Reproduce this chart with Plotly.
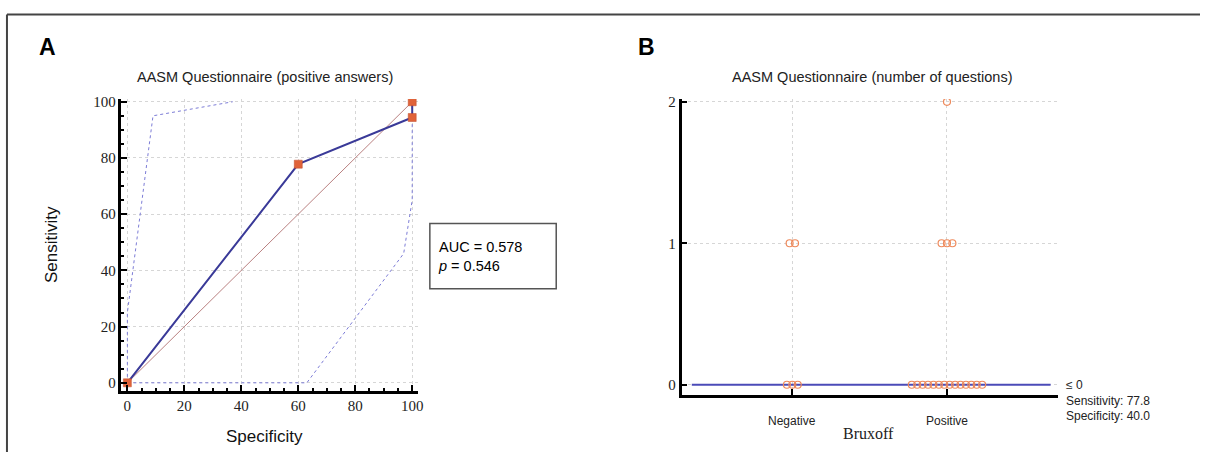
import plotly.graph_objects as go

# ---- Panel A data (ROC) ----
roc_spec = [0, 60, 100, 100]
roc_sens = [0, 77.8, 94.4, 100]
diag_x = [0, 100]
diag_y = [0, 100]
upper_ci_x = [0, 0, 9, 37]
upper_ci_y = [0, 25, 95, 100]
lower_ci_x = [0, 63, 97, 100, 100]
lower_ci_y = [0, 0, 46, 65, 100]
auc_text = "AUC = 0.578"
p_text = "0.546"
a_ticks = [0, 20, 40, 60, 80, 100]

# ---- Panel B data (dot plot) ----
categories = ["Negative", "Positive"]
negative_values = [0, 0, 0, 1, 1]
positive_values = [0, 0, 0, 0, 0, 0, 0, 0, 0, 0, 0, 0, 0, 0, 1, 1, 1, 2]
criterion = 0
sensitivity = 77.8
specificity = 40.0
b_ticks = [0, 1, 2]

W, H = 1206, 452

def px(x):
    return x / W

def py(y):
    return 1 - y / H

fig = go.Figure()

blue = "#3A3A98"
ci_blue = "#7C7CD6"
orange = "#E0633A"
circ = "#EE8A5C"

# Panel A traces
fig.add_trace(go.Scatter(x=diag_x, y=diag_y, mode="lines",
                         line=dict(color="#B98080", width=1), xaxis="x", yaxis="y", hoverinfo="skip"))
fig.add_trace(go.Scatter(x=upper_ci_x, y=upper_ci_y, mode="lines",
                         line=dict(color=ci_blue, width=1, dash="dot"), xaxis="x", yaxis="y"))
fig.add_trace(go.Scatter(x=lower_ci_x, y=lower_ci_y, mode="lines",
                         line=dict(color=ci_blue, width=1, dash="dot"), xaxis="x", yaxis="y"))
fig.add_trace(go.Scatter(x=roc_spec, y=roc_sens, mode="lines+markers",
                         line=dict(color=blue, width=2),
                         marker=dict(symbol="square", size=8, color=orange,
                                     line=dict(color="#C04A2A", width=0.5)),
                         xaxis="x", yaxis="y"))

# Panel B traces: beeswarm-like horizontal spread
spacing = 0.035

def spread(values, center):
    xs, ys = [], []
    for v in sorted(set(values)):
        n = values.count(v)
        for i in range(n):
            xs.append(center + (i - (n - 1) / 2) * spacing)
            ys.append(v)
    return xs, ys

fig.add_trace(go.Scatter(x=[-0.65, 1.67], y=[criterion, criterion], mode="lines",
                         line=dict(color="#4B4BB8", width=2), xaxis="x2", yaxis="y2"))
for ci, vals in enumerate([negative_values, positive_values]):
    xs, ys = spread(vals, ci)
    fig.add_trace(go.Scatter(x=xs, y=ys, mode="markers",
                             marker=dict(symbol="circle", size=7, color="rgba(255,255,255,0)",
                                         line=dict(color=circ, width=1.2)),
                             xaxis="x2", yaxis="y2"))

serif = "Liberation Serif, Times New Roman, serif"
sans = "Liberation Sans, Arial, sans-serif"

axis_common = dict(showline=True, linecolor="black", linewidth=2.5, ticks="inside",
                   tickcolor="black", tickwidth=2, ticklen=6, showgrid=True,
                   gridcolor="#D6D6D6", griddash="dot", gridwidth=1, zeroline=False,
                   tickfont=dict(family=serif, size=15, color="#222"))

fig.update_layout(
    width=W, height=H, margin=dict(l=0, r=0, t=0, b=0),
    paper_bgcolor="white", plot_bgcolor="white", showlegend=False,
    xaxis=dict(domain=[px(122), px(420)], range=[-2.1, 102], anchor="y",
               tickvals=a_ticks,
               minor=dict(dtick=5, ticks="inside", ticklen=3, tickcolor="black", showgrid=False),
               **axis_common),
    yaxis=dict(domain=[py(390), py(95)], range=[-2.8, 101], anchor="x",
               tickvals=a_ticks,
               minor=dict(dtick=5, ticks="inside", ticklen=3, tickcolor="black", showgrid=False),
               **axis_common),
    xaxis2=dict(domain=[px(685), px(1063)], range=[-0.716, 1.716], anchor="y2",
                tickvals=[0, 1], ticktext=["", ""], **axis_common),
    yaxis2=dict(domain=[py(394), py(95)], range=[-0.07, 2.02], anchor="x2",
                tickvals=b_ticks, **axis_common),
)

ann = []
ann.append(dict(x=px(48), y=py(42), text="<b>A</b>", showarrow=False, xref="paper", yref="paper",
                font=dict(family=sans, size=23, color="black"), xanchor="center", yanchor="middle"))
ann.append(dict(x=px(650), y=py(42), text="<b>B</b>", showarrow=False, xref="paper", yref="paper",
                font=dict(family=sans, size=23, color="black"), xanchor="center", yanchor="middle"))
ann.append(dict(x=px(266), y=py(73), text="AASM Questionnaire (positive answers)", showarrow=False,
                xref="paper", yref="paper", font=dict(family=sans, size=14.5, color="#222"),
                xanchor="center", yanchor="middle"))
ann.append(dict(x=px(876), y=py(73), text="AASM Questionnaire (number of questions)", showarrow=False,
                xref="paper", yref="paper", font=dict(family=sans, size=14.5, color="#222"),
                xanchor="center", yanchor="middle"))
ann.append(dict(x=px(52), y=py(242), text="Sensitivity", showarrow=False, xref="paper", yref="paper",
                textangle=-90, font=dict(family=sans, size=17, color="#111"),
                xanchor="center", yanchor="middle"))
ann.append(dict(x=px(266), y=py(436), text="Specificity", showarrow=False, xref="paper", yref="paper",
                font=dict(family=sans, size=17, color="#111"), xanchor="center", yanchor="middle"))
ann.append(dict(x=px(438), y=py(254), text=auc_text + "<br><i>p</i> = " + p_text, showarrow=False,
                xref="paper", yref="paper", align="left",
                font=dict(family=sans, size=14.5, color="black"), xanchor="left", yanchor="middle"))
for ci, cat in enumerate(categories):
    ann.append(dict(x=ci, y=-0.07, xref="x2", yref="y2", yshift=-26, text=cat, showarrow=False,
                    font=dict(family=sans, size=12, color="#222"), xanchor="center", yanchor="middle"))
ann.append(dict(x=px(873), y=py(433), text="Bruxoff", showarrow=False, xref="paper", yref="paper",
                font=dict(family=serif, size=16, color="#222"), xanchor="center", yanchor="middle"))
ann.append(dict(x=px(1069), y=py(400), xref="paper", yref="paper", showarrow=False, align="left",
                text="\u2264 " + str(criterion) + "<br>Sensitivity: " + f"{sensitivity:.1f}" +
                     "<br>Specificity: " + f"{specificity:.1f}",
                font=dict(family=sans, size=12, color="#222"), xanchor="left", yanchor="middle"))
fig.update_layout(annotations=ann)

fig.update_layout(shapes=[
    dict(type="rect", xref="paper", yref="paper", x0=px(432), x1=px(559), y0=py(287), y1=py(221),
         line=dict(color="#555", width=1.5), fillcolor="rgba(0,0,0,0)"),
    dict(type="line", xref="paper", yref="paper", x0=px(7), x1=1.0, y0=py(9.5), y1=py(9.5),
         line=dict(color="#444", width=2)),
    dict(type="line", xref="paper", yref="paper", x0=px(7), x1=px(7), y0=py(9.5), y1=0,
         line=dict(color="#444", width=2)),
])

fig.write_html("out.html", config={"displayModeBar": False},
               post_script="document.body.style.margin='0';document.body.style.overflow='hidden';")
